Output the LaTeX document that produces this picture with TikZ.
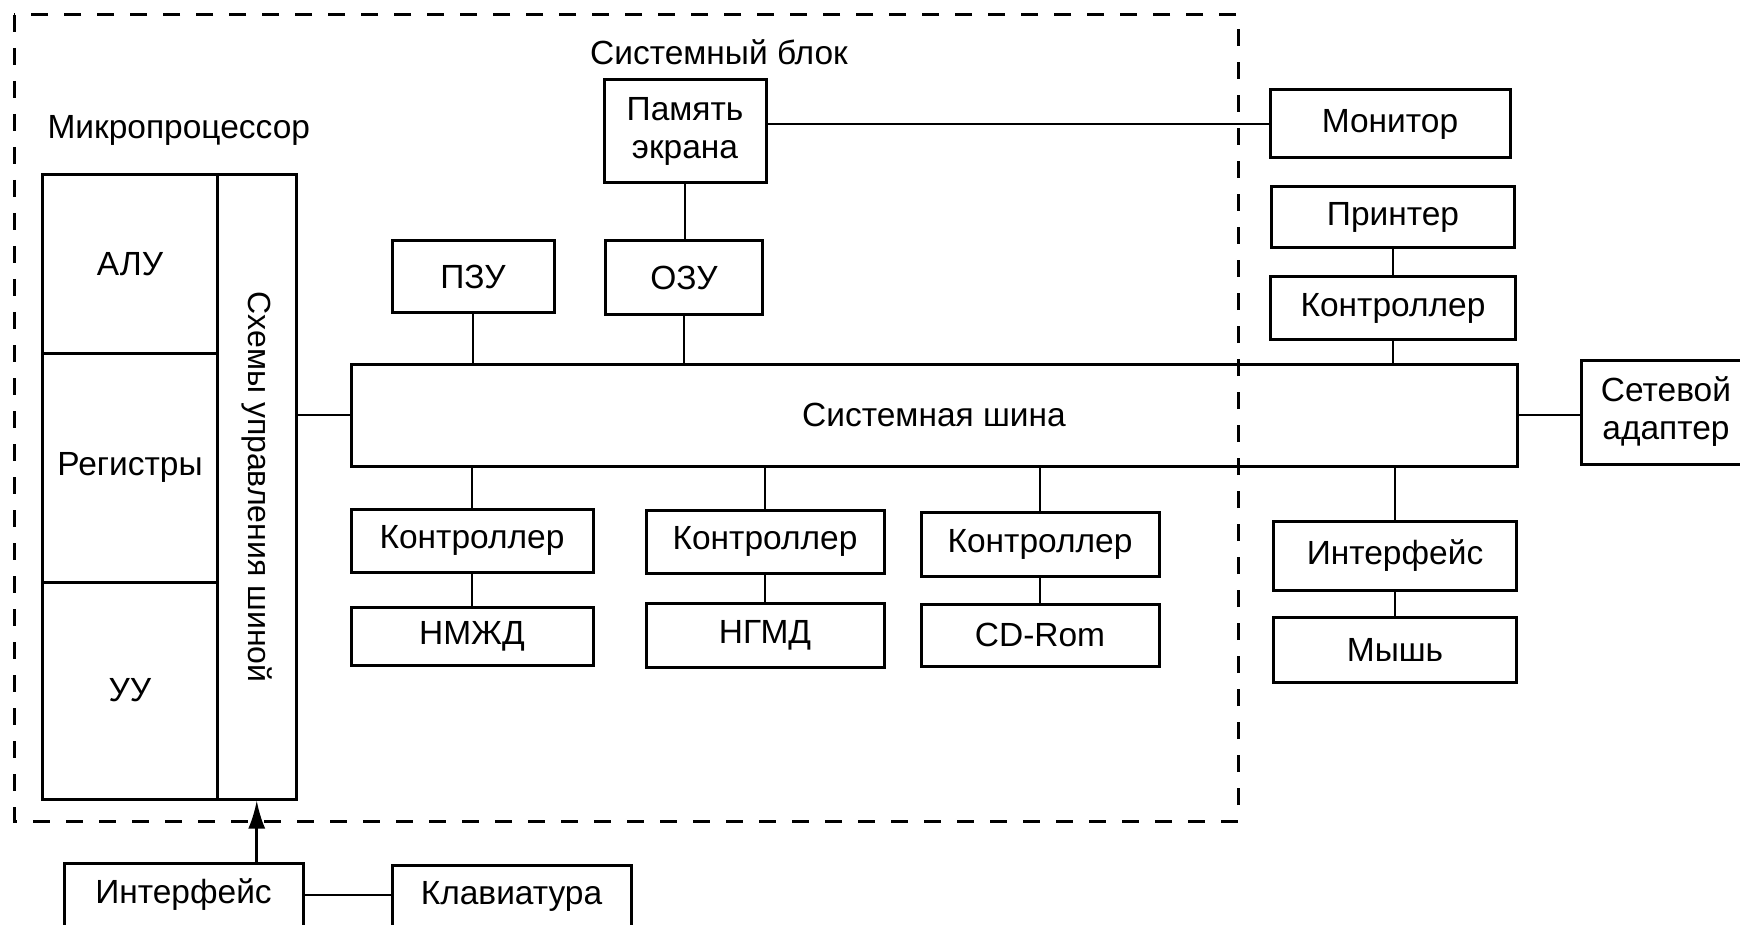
\documentclass[tikz,border=0pt]{standalone}
\usepackage{fontspec}
\setmainfont{Liberation Sans}
\usetikzlibrary{arrows.meta}
\begin{document}
\begin{tikzpicture}[x=1pt,y=-1pt,
  every node/.style={font=\fontsize{33.5}{38}\selectfont},
  blk/.style={draw,line width=3pt,inner sep=0pt,align=center},
  lnk/.style={line width=2.6pt}]
\useasboundingbox (0,0) rectangle (1740,925);
\draw[line width=3pt,dash pattern=on 17pt off 16pt] (14,15) rectangle (1238,821);

\node[anchor=west] (mpl) at (44,130) {Микропроцессор};
\node (sbl) at (719,52) {Системный блок};

\node[blk,minimum width=175pt,minimum height=178pt] (alu) at (130,264) {АЛУ};
\node[blk,minimum width=175pt,minimum height=229pt] (reg) at (130,467.5) {Регистры};
\node[blk,minimum width=175pt,minimum height=217pt] (uu) at (130,690.5) {УУ};
\node[blk,minimum width=78.5pt,minimum height=624pt] (shc) at (256.75,487) {};
\node[rotate=-90,font=\fontsize{32}{37}\selectfont] at (shc) {Схемы управления шиной};

\node[blk,minimum width=1166pt,minimum height=102pt] (bus) at (934,415) {Системная шина};
\node[blk,minimum width=162pt,minimum height=72pt] (pzu) at (473,277) {ПЗУ};
\node[blk,minimum width=162pt,minimum height=103pt] (pe) at (685,131.5) {Память\\экрана};
\node[blk,minimum width=157pt,minimum height=74pt] (ozu) at (684,278) {ОЗУ};
\node[blk,minimum width=240pt,minimum height=68pt] (mon) at (1390,124) {Монитор};
\node[blk,minimum width=243pt,minimum height=61pt] (prn) at (1393,217.5) {Принтер};
\node[blk,minimum width=245pt,minimum height=62pt] (kr) at (1393,308) {Контроллер};
\node[blk,minimum width=170pt,minimum height=104pt] (net) at (1666,412) {Сетевой\\адаптер};

\node[blk,minimum width=242pt,minimum height=63pt] (kc1) at (472,540.5) {Контроллер};
\node[blk,minimum width=242pt,minimum height=58pt] (nmzd) at (472,636) {НМЖД};
\node[blk,minimum width=238pt,minimum height=63pt] (kc2) at (765,541.5) {Контроллер};
\node[blk,minimum width=238pt,minimum height=64pt] (ngmd) at (765,635) {НГМД};
\node[blk,minimum width=238pt,minimum height=64pt] (kc3) at (1040,544) {Контроллер};
\node[blk,minimum width=238pt,minimum height=62pt] (cd) at (1040,635) {CD-Rom};
\node[blk,minimum width=243pt,minimum height=69pt] (ifm) at (1395,555.5) {Интерфейс};
\node[blk,minimum width=243pt,minimum height=65pt] (mouse) at (1395,649.5) {Мышь};

\node[blk,minimum width=239pt,minimum height=64pt] (ifk) at (183.5,895) {Интерфейс};
\node[blk,minimum width=239pt,minimum height=62pt] (kb) at (511.5,896) {Клавиатура};

\draw[lnk] (shc.east |- bus.west) -- (bus.west);
\draw[lnk] (pe.east |- mon.west) -- (mon.west);
\draw[lnk] (pe.south) -- (pe.south |- ozu.north);
\draw[lnk] (ozu.south) -- (ozu.south |- bus.north);
\draw[lnk] (pzu.south) -- (pzu.south |- bus.north);
\draw[lnk] (prn.south) -- (kr.north);
\draw[lnk] (kr.south) -- (kr.south |- bus.north);
\draw[lnk] (bus.east) -- (bus.east -| net.west);
\draw[lnk] (kc1.north |- bus.south) -- (kc1.north);
\draw[lnk] (kc1.south) -- (nmzd.north);
\draw[lnk] (kc2.north |- bus.south) -- (kc2.north);
\draw[lnk] (kc2.south) -- (ngmd.north);
\draw[lnk] (kc3.north |- bus.south) -- (kc3.north);
\draw[lnk] (kc3.south) -- (cd.north);
\draw[lnk] (ifm.north |- bus.south) -- (ifm.north);
\draw[lnk] (ifm.south) -- (mouse.north);
\draw[lnk] (ifk.east) -- (ifk.east -| kb.west);
\draw[lnk,-{Latex[length=28pt,width=17pt]}] (shc.south |- ifk.north) -- (shc.south);

\end{tikzpicture}
\end{document}
